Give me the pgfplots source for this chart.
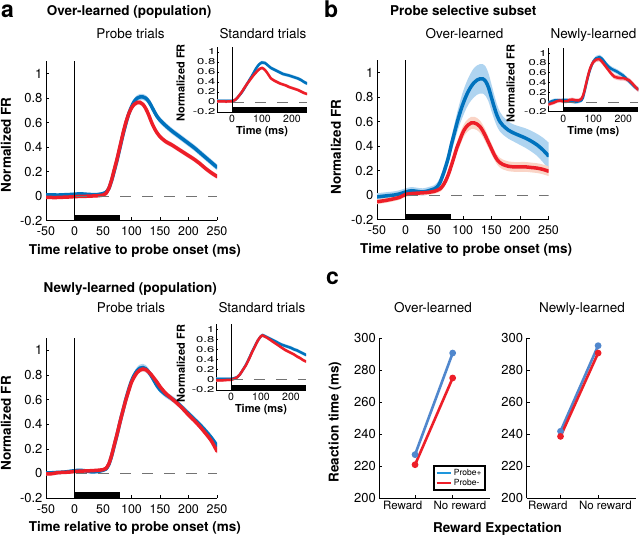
\documentclass[border=0pt]{standalone}
\usepackage{fontspec}
\setmainfont{TeX Gyre Heros}
\usepackage{pgfplots}
\pgfplotsset{compat=1.18}
\usepackage{pgfplotstable}
\usepgfplotslibrary{fillbetween}

\definecolor{cblue}{RGB}{0,114,189}
\definecolor{cred}{RGB}{237,30,40}
\definecolor{lblue}{RGB}{175,212,240}
\definecolor{lred}{RGB}{246,185,190}
\definecolor{lpeach}{RGB}{250,212,198}
\definecolor{cblue2}{RGB}{80,135,205}
\definecolor{cblue3}{RGB}{30,150,220}

% ---------------- data ----------------
% Over-learned population, probe trials
\pgfplotstableread{
t b r eb er
-50 0.010 -0.012 0.012 0.012
-40 0.010 -0.012 0.012 0.012
-30 0.008 -0.012 0.012 0.012
-20 0.010 -0.010 0.012 0.012
-10 0.012 -0.008 0.012 0.012
0 0.015 -0.005 0.012 0.012
10 0.018 -0.003 0.012 0.012
20 0.015 -0.002 0.012 0.012
30 0.012 0.000 0.012 0.012
40 0.012 0.002 0.012 0.012
50 0.020 0.008 0.012 0.012
55 0.030 0.020 0.015 0.015
60 0.060 0.060 0.015 0.015
65 0.125 0.130 0.018 0.018
70 0.210 0.220 0.020 0.020
75 0.300 0.310 0.020 0.020
80 0.400 0.410 0.020 0.020
85 0.500 0.510 0.022 0.020
90 0.590 0.600 0.025 0.020
95 0.670 0.670 0.025 0.020
100 0.730 0.720 0.025 0.020
105 0.775 0.750 0.025 0.020
110 0.800 0.765 0.025 0.020
115 0.810 0.765 0.025 0.020
120 0.810 0.750 0.025 0.020
125 0.800 0.715 0.025 0.020
130 0.775 0.665 0.025 0.020
135 0.735 0.605 0.025 0.020
140 0.690 0.555 0.025 0.020
145 0.650 0.515 0.025 0.020
150 0.620 0.485 0.025 0.020
160 0.575 0.445 0.025 0.020
170 0.535 0.420 0.025 0.020
180 0.500 0.390 0.025 0.020
190 0.465 0.360 0.025 0.020
200 0.430 0.330 0.025 0.020
210 0.395 0.300 0.025 0.020
220 0.355 0.265 0.025 0.020
230 0.315 0.225 0.025 0.020
240 0.275 0.190 0.025 0.020
250 0.235 0.160 0.025 0.020
}\pa
% Over-learned population, standard trials
\pgfplotstableread{
t b r eb er
-50 0.02 0.01 0.03 0.03
-30 0.02 0.01 0.03 0.03
-10 0.02 0.01 0.03 0.03
0 0.02 0.015 0.03 0.03
10 0.04 0.04 0.03 0.03
20 0.10 0.10 0.03 0.03
30 0.17 0.18 0.03 0.03
40 0.26 0.27 0.03 0.03
50 0.36 0.36 0.03 0.03
60 0.46 0.44 0.03 0.03
70 0.56 0.52 0.03 0.03
80 0.67 0.59 0.035 0.03
90 0.75 0.65 0.035 0.03
100 0.79 0.68 0.035 0.03
110 0.78 0.64 0.035 0.03
120 0.73 0.56 0.035 0.03
130 0.68 0.47 0.035 0.03
140 0.65 0.43 0.035 0.03
150 0.62 0.40 0.035 0.03
160 0.59 0.37 0.035 0.03
170 0.56 0.35 0.035 0.03
180 0.545 0.33 0.035 0.03
190 0.53 0.30 0.035 0.03
200 0.51 0.28 0.035 0.03
210 0.49 0.26 0.035 0.03
220 0.47 0.24 0.035 0.03
230 0.44 0.21 0.035 0.03
240 0.40 0.18 0.035 0.03
250 0.37 0.16 0.035 0.03
}\sa
% Probe selective subset, over-learned
\pgfplotstableread{
t b r eb er
-50 -0.015 -0.055 0.030 0.020
-40 -0.010 -0.048 0.030 0.020
-30 -0.005 -0.040 0.030 0.020
-20 0.000 -0.030 0.030 0.020
-10 0.010 -0.018 0.030 0.020
0 0.025 0.005 0.030 0.020
10 0.035 0.012 0.030 0.020
20 0.030 0.015 0.030 0.020
30 0.025 0.018 0.030 0.020
40 0.035 0.022 0.030 0.020
50 0.050 0.030 0.030 0.020
55 0.065 0.038 0.035 0.022
60 0.100 0.050 0.040 0.025
65 0.160 0.075 0.045 0.028
70 0.230 0.115 0.050 0.030
75 0.310 0.170 0.055 0.032
80 0.410 0.240 0.060 0.035
85 0.500 0.315 0.070 0.040
90 0.590 0.390 0.080 0.045
95 0.670 0.450 0.090 0.050
100 0.740 0.510 0.100 0.050
105 0.800 0.550 0.105 0.050
110 0.850 0.575 0.110 0.050
115 0.890 0.590 0.115 0.050
120 0.920 0.590 0.120 0.050
125 0.940 0.580 0.120 0.050
130 0.950 0.560 0.120 0.050
135 0.950 0.525 0.120 0.050
140 0.930 0.480 0.120 0.050
145 0.880 0.430 0.115 0.045
150 0.800 0.380 0.110 0.045
155 0.720 0.330 0.100 0.040
160 0.650 0.290 0.090 0.040
165 0.600 0.265 0.080 0.040
170 0.570 0.250 0.075 0.040
180 0.530 0.235 0.070 0.040
190 0.505 0.230 0.070 0.040
200 0.485 0.230 0.075 0.040
210 0.465 0.230 0.080 0.040
220 0.440 0.225 0.085 0.040
230 0.410 0.220 0.090 0.040
240 0.370 0.210 0.100 0.040
250 0.320 0.195 0.110 0.040
}\pb
% Probe selective subset, newly-learned
\pgfplotstableread{
t b r eb er
-50 -0.02 -0.05 0.04 0.04
-40 0.01 -0.03 0.04 0.04
-30 0.03 -0.01 0.04 0.04
-20 0.035 0.02 0.04 0.04
-10 0.03 0.03 0.04 0.04
0 0.04 0.01 0.04 0.04
10 0.04 0.01 0.04 0.04
20 0.03 0.04 0.04 0.04
30 0.01 0.05 0.04 0.04
40 0.00 0.035 0.04 0.04
50 0.01 0.03 0.04 0.04
60 0.03 0.06 0.04 0.04
65 0.08 0.12 0.04 0.04
70 0.20 0.22 0.045 0.045
75 0.33 0.35 0.045 0.045
80 0.46 0.48 0.045 0.045
85 0.58 0.60 0.05 0.05
90 0.68 0.70 0.05 0.05
95 0.76 0.77 0.05 0.05
100 0.83 0.82 0.05 0.05
110 0.90 0.87 0.05 0.05
120 0.92 0.88 0.05 0.05
130 0.88 0.82 0.05 0.05
140 0.80 0.74 0.05 0.05
150 0.73 0.66 0.05 0.05
160 0.68 0.58 0.05 0.05
170 0.65 0.52 0.05 0.05
180 0.62 0.50 0.05 0.05
190 0.58 0.49 0.05 0.05
200 0.54 0.49 0.05 0.05
210 0.48 0.47 0.05 0.05
220 0.42 0.44 0.05 0.05
230 0.36 0.38 0.05 0.05
240 0.30 0.31 0.05 0.05
250 0.26 0.25 0.05 0.05
}\sb
% Newly-learned population, probe trials
\pgfplotstableread{
t b r eb er
-50 0.005 -0.005 0.012 0.012
-40 0.005 -0.003 0.012 0.012
-30 0.008 0.005 0.012 0.012
-20 0.010 0.008 0.012 0.012
-10 0.015 0.010 0.012 0.012
0 0.022 0.015 0.012 0.012
10 0.025 0.018 0.012 0.012
20 0.020 0.020 0.012 0.012
30 0.012 0.022 0.012 0.012
40 0.015 0.025 0.012 0.012
50 0.025 0.030 0.012 0.012
55 0.035 0.040 0.015 0.015
60 0.070 0.075 0.015 0.015
65 0.140 0.145 0.018 0.018
70 0.230 0.235 0.020 0.020
75 0.320 0.325 0.020 0.020
80 0.420 0.420 0.020 0.020
85 0.510 0.510 0.022 0.020
90 0.600 0.595 0.025 0.020
95 0.680 0.670 0.025 0.020
100 0.750 0.740 0.025 0.020
105 0.800 0.785 0.028 0.020
110 0.835 0.820 0.030 0.020
115 0.855 0.840 0.030 0.020
120 0.860 0.848 0.030 0.020
125 0.850 0.843 0.030 0.020
130 0.825 0.825 0.028 0.020
135 0.790 0.800 0.025 0.020
140 0.750 0.770 0.025 0.020
145 0.710 0.740 0.025 0.020
150 0.680 0.705 0.025 0.020
160 0.640 0.650 0.025 0.020
170 0.610 0.610 0.025 0.020
180 0.575 0.570 0.025 0.020
190 0.530 0.525 0.025 0.020
200 0.485 0.475 0.025 0.020
210 0.440 0.430 0.025 0.020
220 0.395 0.380 0.025 0.020
230 0.345 0.325 0.025 0.020
240 0.290 0.265 0.025 0.020
250 0.225 0.180 0.025 0.020
}\pn
% Newly-learned population, standard trials
\pgfplotstableread{
t b r eb er
-50 0.02 -0.01 0.03 0.03
-30 0.02 -0.01 0.03 0.03
-10 0.02 0.00 0.03 0.03
0 0.02 0.00 0.03 0.03
10 0.03 0.02 0.03 0.03
20 0.05 0.05 0.03 0.03
30 0.11 0.11 0.03 0.03
40 0.20 0.20 0.03 0.03
50 0.30 0.29 0.03 0.03
60 0.42 0.41 0.03 0.03
70 0.55 0.54 0.03 0.03
80 0.67 0.66 0.03 0.03
90 0.78 0.78 0.03 0.03
100 0.86 0.86 0.035 0.03
105 0.88 0.875 0.035 0.03
110 0.87 0.86 0.035 0.03
120 0.84 0.83 0.035 0.03
130 0.81 0.79 0.035 0.03
140 0.78 0.75 0.035 0.03
150 0.75 0.71 0.035 0.03
160 0.72 0.67 0.035 0.03
170 0.69 0.63 0.035 0.03
180 0.67 0.59 0.035 0.03
190 0.65 0.56 0.035 0.03
200 0.63 0.53 0.035 0.03
210 0.60 0.50 0.035 0.03
220 0.58 0.46 0.035 0.03
230 0.55 0.43 0.035 0.03
240 0.52 0.39 0.035 0.03
250 0.49 0.36 0.035 0.03
}\sn

\newcommand\band[5]{%
\addplot[name path=u#5, draw=none, forget plot, smooth] table[x=t,y expr=\thisrow{#2}+\thisrow{#3}]{#1};
\addplot[name path=l#5, draw=none, forget plot, smooth] table[x=t,y expr=\thisrow{#2}-\thisrow{#3}]{#1};
\addplot[fill=#4, draw=none, forget plot] fill between[of=u#5 and l#5];
}

\pgfplotsset{
  common/.style={
    scale only axis, anchor=south west,
    axis x line*=bottom, axis y line*=left,
    axis line style={-, black, line width=0.6pt},
    tick align=inside, major tick length=3pt,
    every tick/.style={black, line width=0.5pt},
    /pgf/number format/assume math mode=true,
  },
  mainax/.style={common,
    width=171pt, height=159pt,
    xmin=-50, xmax=250, ymin=-0.2, ymax=1.1,
    xtick={-50,0,50,100,150,200,250},
    ytick={-0.2,0,0.2,0.4,0.6,0.8,1},
    tick label style={font=\fontsize{12.5}{14}\selectfont},
    yticklabel style={font=\fontsize{13}{14}\selectfont},
    xticklabel style={yshift=-3pt},
    xlabel={Time relative to probe onset (ms)},
    ylabel={Normalized FR},
    xlabel style={font=\bfseries\fontsize{13.5}{16}\selectfont, at={(axis description cs:0.52,0)}, anchor=center, yshift=-30pt},
    ylabel style={font=\bfseries\fontsize{13.5}{16}\selectfont, at={(axis description cs:-0.234,0.476)}, anchor=center},
  },
  insetax/.style={common,
    width=90pt, height=65pt, major tick length=2pt,
    xmin=-50, xmax=250, ymin=-0.2, ymax=1.1,
    xtick={0,100,200},
    ytick={-0.2,0,0.2,0.4,0.6,0.8,1},
    yticklabel={\scalebox{1}[0.65]{\pgfmathprintnumber{\tick}}},
    xticklabel style={font=\fontsize{10.5}{12}\selectfont},
    yticklabel style={font=\fontsize{13}{13}\selectfont, inner sep=1.5pt},
    xlabel={Time (ms)}, ylabel={Normalized FR},
    xlabel style={font=\bfseries\fontsize{11}{13}\selectfont, at={(axis description cs:0.5,0)}, anchor=center, yshift=-20pt},
    ylabel style={font=\bfseries\fontsize{11}{13}\selectfont, at={(axis description cs:-0.406,0.45)}, anchor=center},
  },
  mline/.style={line width=3.5pt, smooth, line cap=round, forget plot},
  iline/.style={line width=2.5pt, smooth, line cap=round, forget plot},
  cax/.style={common,
    height=160pt, ymin=200, ymax=300,
    ytick={200,220,240,260,280,300},
    xtick={1,2},
    yticklabel style={font=\fontsize{13}{15}\selectfont},
    xticklabel style={font=\fontsize{11.5}{13}\selectfont},
  },
}

\newcommand\extras[2]{% bar end, bar top
  \addplot[black!55, line width=0.7pt, dash pattern=on 11pt off 11pt, forget plot] coordinates {(3,0) (250,0)};
  \addplot[black, line width=0.6pt, forget plot] coordinates {(0,-0.2) (0,1.1)};
  \addplot[fill=black, draw=none, forget plot] coordinates {(0,-0.2) (#1,-0.2) (#1,#2) (0,#2)} -- cycle;
}

\begin{document}
\begin{tikzpicture}[x=1pt,y=1pt]

% ---- panel labels and titles ----
\node[anchor=base west, font=\bfseries\fontsize{23}{26}\selectfont, inner sep=0] at (1,519) {a};
\node[anchor=base west, font=\bfseries\fontsize{23}{26}\selectfont, inner sep=0] at (324,519) {b};
\node[anchor=base west, font=\bfseries\fontsize{23}{26}\selectfont, inner sep=0] at (326,252) {c};
\node[anchor=base west, font=\bfseries\fontsize{13.5}{16}\selectfont, inner sep=0] at (46.7,521.5) {Over-learned (population)};
\node[anchor=base west, font=\bfseries\fontsize{13.5}{16}\selectfont, inner sep=0] at (390,521.5) {Probe selective subset};
\node[anchor=base west, font=\bfseries\fontsize{13.5}{16}\selectfont, inner sep=0] at (43.3,244) {Newly-learned (population)};
\node[anchor=base, font=\fontsize{13.5}{16}\selectfont, inner sep=0] at (130.5,498) {Probe trials};
\node[anchor=base, font=\fontsize{13.5}{16}\selectfont, inner sep=0] at (263,498) {Standard trials};
\node[anchor=base, font=\fontsize{13.5}{16}\selectfont, inner sep=0] at (464.5,498) {Over-learned};
\node[anchor=base, font=\fontsize{13.5}{16}\selectfont, inner sep=0] at (593.5,498) {Newly-learned};
\node[anchor=base, font=\fontsize{13.5}{16}\selectfont, inner sep=0] at (131,224) {Probe trials};
\node[anchor=base, font=\fontsize{13.5}{16}\selectfont, inner sep=0] at (262,224) {Standard trials};
\node[anchor=base, font=\fontsize{13.5}{16}\selectfont, inner sep=0] at (433,224) {Over-learned};
\node[anchor=base, font=\fontsize{13.5}{16}\selectfont, inner sep=0] at (582,224) {Newly-learned};
\node[anchor=base, font=\bfseries\fontsize{13.5}{16}\selectfont, inner sep=0] at (497.5,4) {Reward Expectation};

% ---- a: over-learned probe trials ----
\begin{axis}[mainax, at={(46pt,316.5pt)}]
\band{\pa}{b}{eb}{lblue}{A}
\band{\pa}{r}{er}{lred}{B}
\addplot[mline, cblue] table[x=t,y=b]{\pa};
\addplot[mline, cred] table[x=t,y=r]{\pa};
\extras{80}{-0.155}
\end{axis}
% ---- a: over-learned standard trials ----
\begin{axis}[insetax, at={(217pt,425pt)}]
\band{\sa}{b}{eb}{lblue}{A}
\band{\sa}{r}{er}{lred}{B}
\addplot[iline, cblue] table[x=t,y=b]{\sa};
\addplot[iline, cred] table[x=t,y=r]{\sa};
\extras{250}{-0.11}
\end{axis}

% ---- b: probe selective over-learned ----
\begin{axis}[mainax, at={(377pt,317.5pt)}, width=171.5pt,
  ylabel style={at={(axis description cs:-0.239,0.455)}}]
\band{\pb}{b}{eb}{lblue}{A}
\band{\pb}{r}{er}{lpeach}{B}
\addplot[mline, cblue] table[x=t,y=b]{\pb};
\addplot[mline, cred] table[x=t,y=r]{\pb};
\extras{80}{-0.155}
\end{axis}
% ---- b: probe selective newly-learned ----
\begin{axis}[insetax, at={(548.3pt,425.3pt)}, height=63.3pt,
  ylabel style={at={(axis description cs:-0.42,0.445)}}]
\band{\sb}{b}{eb}{lblue}{A}
\band{\sb}{r}{er}{lred}{B}
\addplot[iline, cblue] table[x=t,y=b]{\sb};
\addplot[iline, cred] table[x=t,y=r]{\sb};
\extras{250}{-0.11}
\end{axis}

% ---- a (bottom): newly-learned probe trials ----
\begin{axis}[mainax, at={(46pt,39pt)}, height=160pt,
  ylabel style={at={(axis description cs:-0.234,0.466)}}]
\band{\pn}{b}{eb}{lblue}{A}
\band{\pn}{r}{er}{lred}{B}
\addplot[mline, cblue] table[x=t,y=b]{\pn};
\addplot[mline, cred] table[x=t,y=r]{\pn};
\extras{80}{-0.155}
\end{axis}
% ---- a (bottom): newly-learned standard trials ----
\begin{axis}[insetax, at={(216pt,147pt)}, height=66pt,
  ylabel style={at={(axis description cs:-0.39,0.40)}}]
\band{\sn}{b}{eb}{lblue}{A}
\band{\sn}{r}{er}{lred}{B}
\addplot[iline, cblue] table[x=t,y=b]{\sn};
\addplot[iline, cred] table[x=t,y=r]{\sn};
\extras{250}{-0.11}
\end{axis}

% ---- c: reaction times ----
\begin{axis}[cax, at={(379.3pt,39pt)}, width=111pt, xmin=0.05, xmax=3,
  xticklabels={{Reward\hspace*{24.6pt}}, {\hspace*{14.6pt}No reward}},
  ylabel={Reaction time (ms)},
  ylabel style={font=\bfseries\fontsize{13.5}{16}\selectfont, at={(axis description cs:-0.40,0.475)}, anchor=center},
  legend style={at={(axis description cs:0.484,0.044)}, anchor=south west, draw=black, line width=1.6pt,
    font=\fontsize{8.5}{10}\selectfont, inner sep=1.5pt, row sep=-2pt, legend cell align=left},
  legend image code/.code={\draw (0pt,0pt) -- (14pt,0pt);}]
\addplot[cblue2, line width=2.6pt, mark=*, mark size=2pt, forget plot,
  error bars/.cd, y dir=both, y explicit, error bar style={line width=2.4pt}, error mark=none]
  coordinates {(1,227.1) +- (0,1.5) (2,290.6) +- (0,1.8)};
\addplot[cred, line width=2.6pt, mark=*, mark size=2pt, forget plot,
  error bars/.cd, y dir=both, y explicit, error bar style={line width=2.4pt}, error mark=none]
  coordinates {(1,220.8) +- (0,1.5) (2,275.0) +- (0,1.8)};
\addlegendimage{cblue3, line width=2.6pt}
\addlegendentry{Probe+}
\addlegendimage{cred, line width=2.6pt}
\addlegendentry{Probe-}
\end{axis}
\begin{axis}[cax, at={(526.7pt,39pt)}, width=109pt, xmin=0.1, xmax=3,
  xticklabels={{Reward\hspace*{25.4pt}}, {\hspace*{14.4pt}No reward}}]
\addplot[cblue2, line width=2.6pt, mark=*, mark size=2pt,
  error bars/.cd, y dir=both, y explicit, error bar style={line width=2.4pt}, error mark=none]
  coordinates {(1,241.7) +- (0,1.5) (2,295.2) +- (0,1.8)};
\addplot[cred, line width=2.6pt, mark=*, mark size=2pt,
  error bars/.cd, y dir=both, y explicit, error bar style={line width=2.4pt}, error mark=none]
  coordinates {(1,238.5) +- (0,1.5) (2,290.6) +- (0,1.8)};
\end{axis}

\pgfresetboundingbox
\useasboundingbox (0,0) rectangle (640,537);
\end{tikzpicture}
\end{document}
